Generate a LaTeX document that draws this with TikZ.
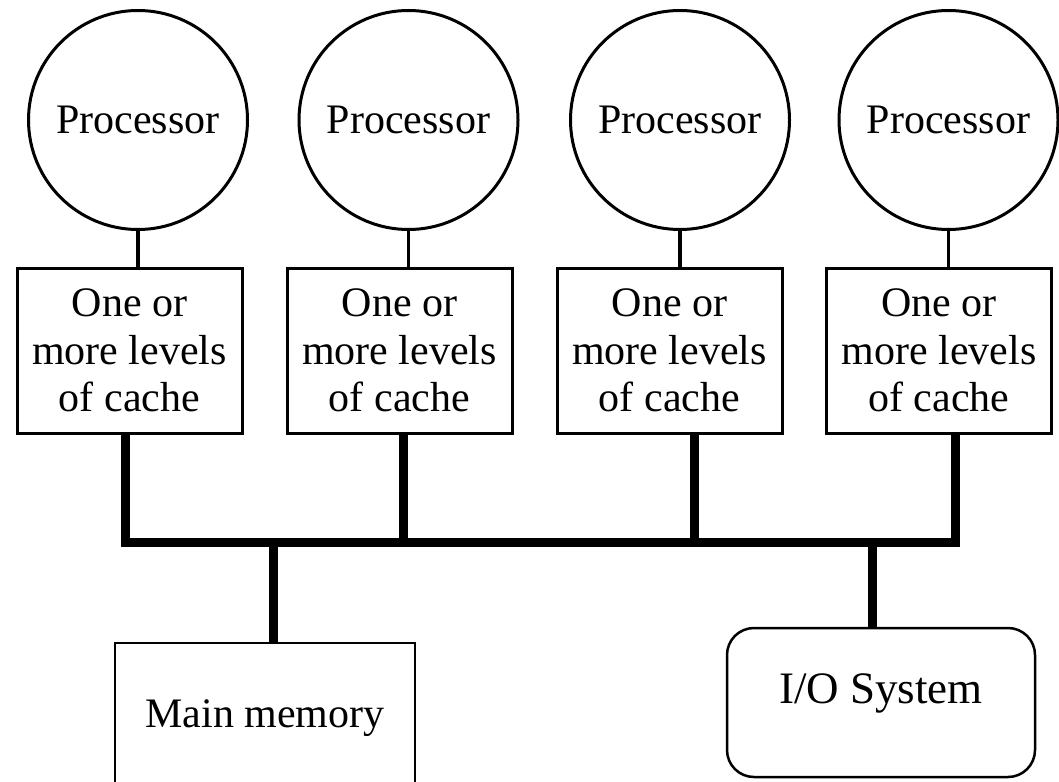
\documentclass[tikz,border=0pt]{standalone}
\usepackage{fontspec}
\setmainfont{Liberation Serif}
\begin{document}
\begin{tikzpicture}[x=1pt,y=-1pt,
  txt/.style={font=\fontsize{42}{47.5}\selectfont},
  proc/.style={circle, draw, line width=3pt, minimum size=219pt, inner sep=0pt, txt},
  cachebox/.style={rectangle, draw, line width=3pt, minimum width=225pt, minimum height=165pt, inner sep=0pt, align=center, txt},
  membox/.style={rectangle, draw, line width=2.5pt, minimum width=300pt, minimum height=150pt, inner sep=0pt, txt},
  iobox/.style={rectangle, draw, line width=2.5pt, rounded corners=27pt, minimum width=308pt, minimum height=149pt, inner sep=0pt, text height=21pt, text depth=20pt, font=\fontsize{45}{50}\selectfont},
  link/.style={line width=3.5pt},
  bus/.style={line width=9pt, line join=miter}]
\useasboundingbox (0,0) rectangle (1059,781);
\clip (0,0) rectangle (1059,781);
% processors
\node[proc] (proc1) at (138,120) {Processor};
\node[proc] (proc2) at (408.5,120) {Processor};
\node[proc] (proc3) at (680,120) {Processor};
\node[proc] (proc4) at (948.5,120) {Processor};
% caches
\node[cachebox] (cache1) at (129.5,350.5) {One or\\more levels\\of cache};
\node[cachebox] (cache2) at (399.5,350.5) {One or\\more levels\\of cache};
\node[cachebox] (cache3) at (669.5,350.5) {One or\\more levels\\of cache};
\node[cachebox] (cache4) at (939,350.5) {One or\\more levels\\of cache};
% memory and I/O
\node[membox] (mem) at (265,718) {Main memory};
\node[iobox] (io) at (881,702.5) {I/O System};
% bus points
\coordinate (b1) at (125.5,542.5);
\coordinate (b2) at (403,542.5);
\coordinate (b3) at (694.5,542.5);
\coordinate (b4) at (955.5,542.5);
\coordinate (bm) at (273,542.5);
\coordinate (bio) at (872.5,542.5);
% processor-cache links
\foreach \i in {1,2,3,4}
  \draw[link] (proc\i.south) -- (proc\i.south |- cache\i.north);
% bus
\draw[bus] (cache1.south -| b1) -- (b1) -- (b4) -- (cache4.south -| b4);
\draw[bus] (cache2.south -| b2) -- (b2);
\draw[bus] (cache3.south -| b3) -- (b3);
\draw[bus] (bm) -- (mem.north -| bm);
\draw[bus] (bio) -- (io.north -| bio);
\end{tikzpicture}
\end{document}
